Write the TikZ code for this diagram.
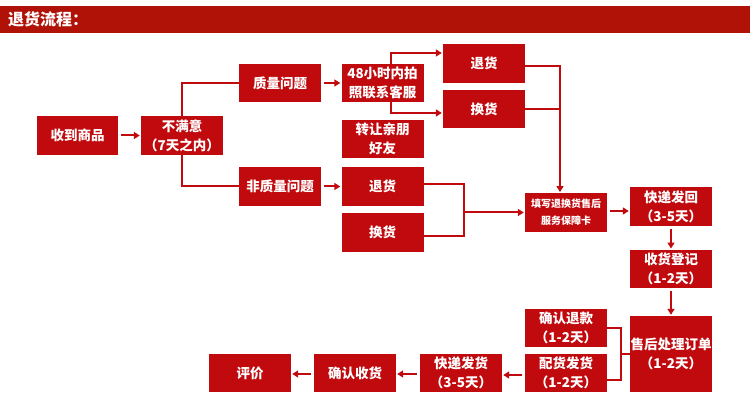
\documentclass[tikz,border=0pt]{standalone}
\usepackage{fontspec}
\setmainfont{Noto Sans CJK SC}
\usetikzlibrary{arrows.meta,calc}
\definecolor{boxred}{HTML}{C00A0E}
\definecolor{barred}{HTML}{B01208}
\tikzset{
  box/.style={fill=boxred, text=white, minimum width=82pt, minimum height=38.5pt,
    inner sep=0pt, align=center, font=\bfseries\fontsize{13.5}{19}\selectfont},
  conn/.style={draw=boxred, line width=2pt},
  arr/.style={conn, -{Triangle[length=6pt,width=7pt]}, shorten <=3pt, shorten >=1pt},
}
\begin{document}
\begin{tikzpicture}[x=1pt,y=-1pt]
\useasboundingbox (0,0) rectangle (750,403);
\fill[white] (0,0) rectangle (750,403);
\fill[barred] (0,6) rectangle (750,33);
\node[anchor=west, text=white, font=\bfseries\fontsize{16}{18}\selectfont, inner sep=0pt] (title) at (8,19.5) {退货流程：};

\node[box, minimum width=81pt] (recv) at (77.5,135.5) {收到商品};
\node[box] (unsat) at (182,135.5) {不满意\\（7天之内）};
\node[box] (qual) at (280,83) {质量问题};
\node[box] (nonq) at (280,186.5) {非质量问题};
\node[box] (photo) at (382.5,83) {48小时内拍\\照联系客服};
\node[box] (gift) at (382.5,139) {转让亲朋\\好友};
\node[box] (ret2) at (382.5,186.5) {退货};
\node[box] (exc2) at (382.5,232.5) {换货};
\node[box] (ret1) at (484,63.5) {退货};
\node[box] (exc1) at (484,109) {换货};
\node[box, font=\bfseries\fontsize{10}{17}\selectfont] (card) at (566,212.5) {填写退换货售后\\服务保障卡};
\node[box] (back) at (671,206.5) {快递发回\\（3-5天）};
\node[box] (reg) at (671,269) {收货登记\\（1-2天）};
\node[box, minimum height=76pt] (proc) at (671,354) {售后处理订单\\（1-2天）};
\node[box] (refund) at (566,328) {确认退款\\（1-2天）};
\node[box] (ship) at (566,373) {配货发货\\（1-2天）};
\node[box] (exp) at (461,373) {快递发货\\（3-5天）};
\node[box] (conf) at (355,373) {确认收货};
\node[box] (eval) at (250,373) {评价};

% connectors
\draw[arr] (recv.east) -- (unsat.west);
\draw[conn] (unsat.north) |- (qual.west);
\draw[conn] (unsat.south) |- (nonq.west);
\draw[arr] (qual.east) -- (photo.west);
\draw[arr] (nonq.east) -- (ret2.west);
\draw[arr, shorten <=0pt] ([xshift=8.5pt]photo.north) |- ([yshift=10.5pt]ret1.west);
\draw[arr, shorten <=0pt] ([xshift=8.5pt]photo.south) |- ([yshift=-4pt]exc1.west);
\coordinate (cj) at ([xshift=-6pt]card.north);
\draw[arr, shorten <=0pt] ([yshift=-2.5pt]ret1.east) -| (cj);
\draw[conn] (exc1.east) -- (exc1.east -| cj);
\coordinate (bj) at ([xshift=-61pt]card.west);
\draw[conn] ([yshift=2.5pt]ret2.east) -| (bj) |- ([yshift=-3.5pt]exc2.east);
\draw[arr, shorten <=0pt] (bj) -- (card.west);
\draw[arr] ([yshift=1.5pt]card.east) -- ([yshift=1.5pt]card.east -| back.west);
\draw[arr] (back.south) -- (reg.north);
\draw[arr] (reg.south) -- (proc.north);
\coordinate (pj) at ([xshift=-9pt]proc.west);
\draw[conn] (refund.east) -| (pj) |- ([yshift=-7pt]ship.east);
\draw[conn] (pj) -- (proc.west);
\draw[arr] ([yshift=-2pt]ship.west) -- ([yshift=-2pt]exp.east);
\draw[arr] ([yshift=-1pt]exp.west) -- ([yshift=-1pt]conf.east);
\draw[arr] ([yshift=-1pt]conf.west) -- ([yshift=-1pt]eval.east);
\end{tikzpicture}
\end{document}
